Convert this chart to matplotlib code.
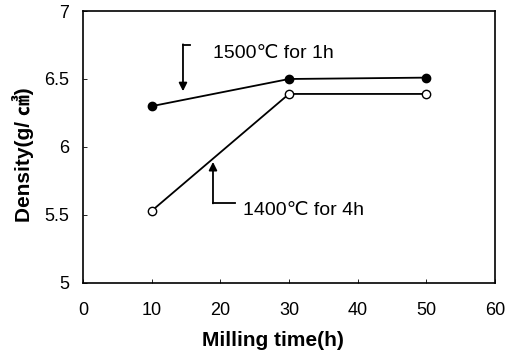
import matplotlib.pyplot as plt

plt.rcParams['font.family'] = ['Liberation Sans', 'DejaVu Sans', 'Noto Sans CJK JP']

milling_time = [10, 30, 50]
density_1500 = [6.30, 6.50, 6.51]
density_1400 = [5.53, 6.39, 6.39]
x_ticks = [0, 10, 20, 30, 40, 50, 60]
y_ticks = [5, 5.5, 6, 6.5, 7]
y_tick_labels = ['5', '5.5', '6', '6.5', '7']


def main():
    fig = plt.figure(figsize=(5.14, 3.55), dpi=100)
    ax = fig.add_axes([0.1615, 0.203, 0.8015, 0.766])

    ax.plot(milling_time, density_1500, color='black', lw=1.3,
            marker='o', markersize=6, markerfacecolor='black')
    ax.plot(milling_time, density_1400, color='black', lw=1.3,
            marker='o', markersize=6, markerfacecolor='white',
            markeredgewidth=1.0)

    ax.set_xlim(0, 60)
    ax.set_ylim(5, 7)
    ax.set_xticks(x_ticks)
    ax.set_yticks(y_ticks)
    ax.set_yticklabels(y_tick_labels)
    ax.tick_params(direction='in', length=3, width=0.6, labelsize=13)
    ax.tick_params(axis='x', pad=14)
    ax.tick_params(axis='y', pad=10)
    for s in ax.spines.values():
        s.set_linewidth(1.2)

    ax.set_xlabel('Milling time(h)', fontsize=15, fontweight='bold', va='center')
    ax.xaxis.set_label_coords(0.46, -0.213)
    ax.set_ylabel('Density(g/ ㎤)', fontsize=15, fontweight='bold', va='center')
    ax.yaxis.set_label_coords(-0.146, 0.47)

    # bracket arrows for the annotations
    ax.plot([15.6, 14.56], [6.75, 6.75], color='black', lw=1.3)
    ax.annotate('', xy=(14.56, 6.41), xytext=(14.56, 6.755),
                arrowprops=dict(arrowstyle='-|>', color='black', lw=1.3,
                                mutation_scale=12, shrinkA=0, shrinkB=0))
    ax.text(18.9, 6.69, '1500℃ for 1h', fontsize=14, va='center')

    ax.plot([22.1, 18.93], [5.59, 5.59], color='black', lw=1.3)
    ax.annotate('', xy=(18.93, 5.89), xytext=(18.93, 5.585),
                arrowprops=dict(arrowstyle='-|>', color='black', lw=1.3,
                                mutation_scale=12, shrinkA=0, shrinkB=0))
    ax.text(23.3, 5.53, '1400℃ for 4h', fontsize=14, va='center')

    fig.savefig('out.png', dpi=100)


if __name__ == '__main__':
    main()
